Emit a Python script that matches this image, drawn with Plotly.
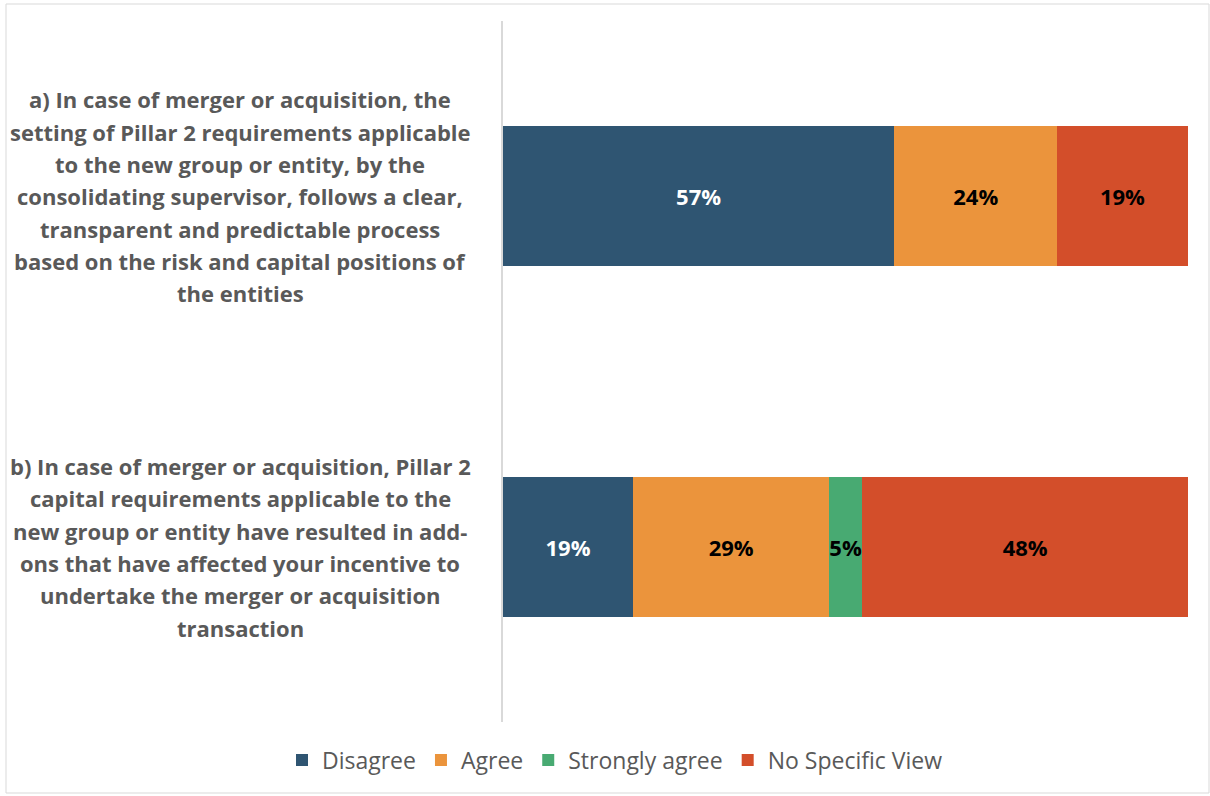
import plotly.graph_objects as go

# ---- data ----
categories = ["a", "b"]
category_lines = {
    "a": [
        "a) In case of merger or acquisition, the",
        "setting of Pillar 2 requirements applicable",
        "to the new group or entity, by the",
        "consolidating supervisor, follows a clear,",
        "transparent and predictable process",
        "based on the risk and capital positions of",
        "the entities",
    ],
    "b": [
        "b) In case of merger or acquisition, Pillar 2",
        "capital requirements applicable to the",
        "new group or entity have resulted in add-",
        "ons that have affected your incentive to",
        "undertake the merger or acquisition",
        "transaction",
    ],
}
series_names = ["Disagree", "Agree", "Strongly agree", "No Specific View"]
disagree = [57.1, 19.0]
agree = [23.8, 28.6]
strongly_agree = [None, 4.8]
no_specific_view = [19.0, 47.6]
series_values = [disagree, agree, strongly_agree, no_specific_view]

colors = ["#2F5572", "#EB943C", "#48AA72", "#D34E2A"]
label_colors = ["#FFFFFF", "#000000", "#000000", "#000000"]

FONT = "Open Sans"

fig = go.Figure()
for name, vals, col, lcol in zip(series_names, series_values, colors, label_colors):
    fig.add_trace(go.Bar(
        y=categories, x=vals, name=name, orientation="h",
        marker=dict(color=col, line=dict(width=0)),
        texttemplate="%{x:.0f}%", textposition="inside", textangle=0,
        insidetextanchor="middle", constraintext="none",
        textfont=dict(family=FONT, size=22, color=lcol, weight="bold"),
        hoverinfo="skip",
    ))

W, H = 1210, 796
L, R, T, B = 503, 21, 21, 74
pw = W - L - R
ph = H - T - B

annotations = []
line_h = 32.3
for cat in categories:
    lines = category_lines[cat]
    n = len(lines)
    for i, txt in enumerate(lines):
        annotations.append(dict(
            x=(240 - L) / pw, xref="paper", y=cat, yref="y",
            text=f"<b>{txt}</b>", showarrow=False,
            xanchor="center", yanchor="middle",
            yshift=-(i - (n - 1) / 2) * line_h,
            font=dict(family=FONT, size=22, color="#595959"),
        ))

fig.update_layout(
    width=W, height=H,
    margin=dict(l=L, r=R, t=T, b=B, autoexpand=False),
    barmode="stack", bargap=0.6,
    plot_bgcolor="white", paper_bgcolor="white",
    font=dict(family=FONT, color="#595959"),
    xaxis=dict(range=[0, 100.1], visible=False, fixedrange=True),
    yaxis=dict(autorange="reversed", showticklabels=False, showgrid=False,
               showline=True, linecolor="#D9D9D9", linewidth=1.5,
               ticks="", zeroline=False),
    legend=dict(orientation="h", x=(615 - L) / pw, xanchor="center",
                y=(T + ph - 760) / ph, yanchor="middle",
                font=dict(family=FONT, size=23, color="#595959"),
                itemwidth=30, traceorder="normal"),
    annotations=annotations,
    shapes=[dict(type="rect", xref="paper", yref="paper",
                 x0=(6 - L) / pw, x1=(1209 - L) / pw,
                 y0=(T + ph - 793) / ph, y1=(T + ph - 4) / ph,
                 line=dict(color="#D9D9D9", width=1), fillcolor="rgba(0,0,0,0)",
                 layer="below")],
)

fig.write_html("out.html", config={"displayModeBar": False},
               post_script="document.body.style.margin='0';")
